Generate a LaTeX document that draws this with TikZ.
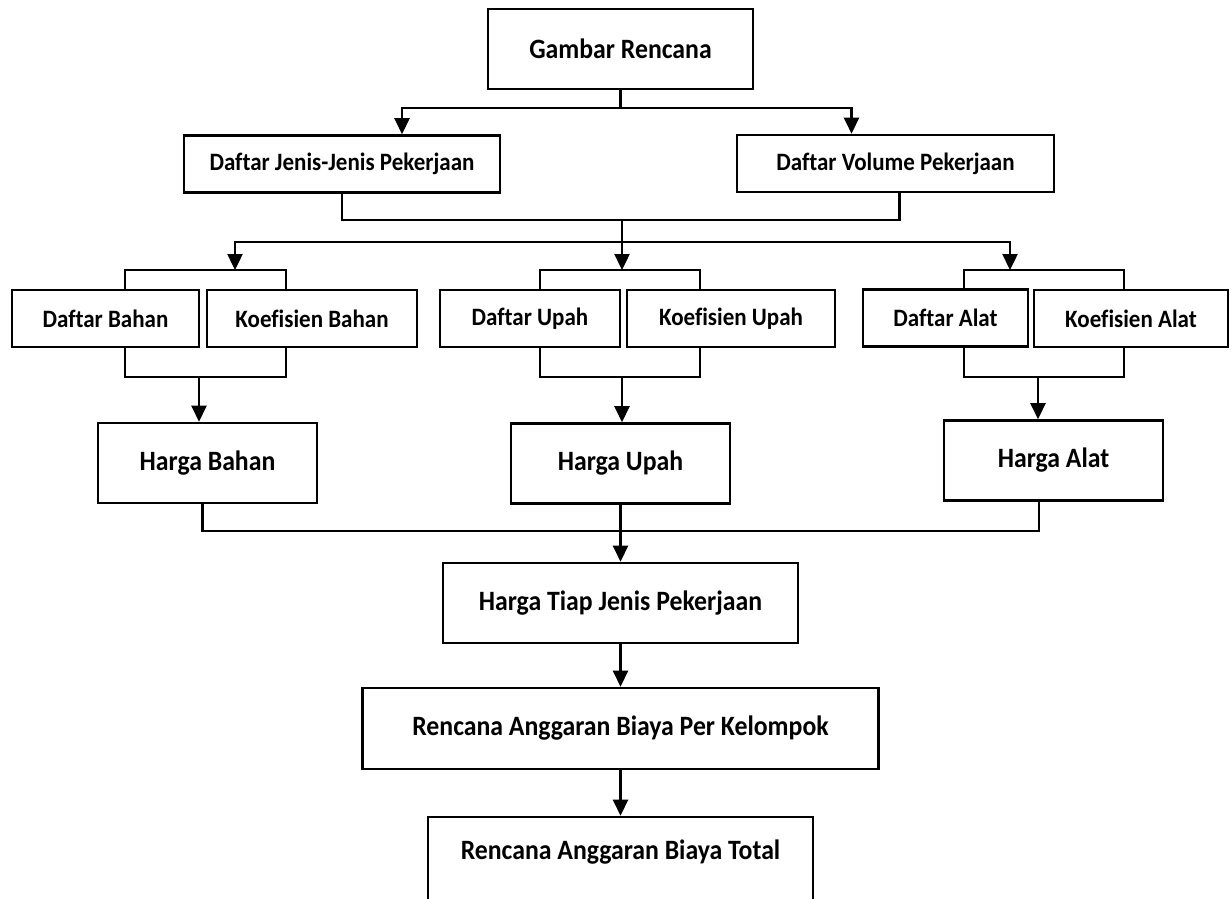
\documentclass[tikz,border=0pt]{standalone}
\usepackage{fontspec}
\setmainfont{Carlito}[FakeStretch=0.92, Ligatures=CommonOff]
\usetikzlibrary{arrows.meta}

\tikzset{
  box/.style={draw, line width=2.6pt, inner sep=0pt, font=\bfseries\fontsize{28}{32}\selectfont},
  sbox/.style={box, minimum height=57pt, font=\bfseries\fontsize{25}{29}\selectfont},
  arr/.style={-{Triangle[length=16pt,width=15pt]}}
}

\begin{document}
\begin{tikzpicture}[x=1pt, y=-1pt, line width=2.4pt]
\useasboundingbox (0,0) rectangle (1231,898);
% Plan and the two lists
\node[box, minimum width=265pt, minimum height=80pt] (gr) at (620.5,49) {Gambar Rencana};
\node[sbox, minimum width=316pt] (dj) at (342,164) {Daftar Jenis-Jenis Pekerjaan};
\node[sbox, minimum width=317pt] (dv) at (895.5,163.5) {Daftar Volume Pekerjaan};
% Lists and coefficients
\node[sbox, minimum width=187pt] (db) at (105.5,318.5) {Daftar Bahan};
\node[sbox, minimum width=210pt] (kb) at (312,318.5) {Koefisien Bahan};
\node[sbox, minimum width=180pt] (du) at (530,318.5) {Daftar Upah};
\node[sbox, minimum width=208pt] (ku) at (731,318.5) {Koefisien Upah};
\node[sbox, minimum width=165pt] (da) at (945.5,318) {Daftar Alat};
\node[sbox, minimum width=194pt] (ka) at (1131,318.5) {Koefisien Alat};
% Prices
\node[box, minimum width=219pt, minimum height=80pt] (hb) at (207.5,463) {Harga Bahan};
\node[box, minimum width=219pt, minimum height=80pt] (hu) at (620.5,463.5) {Harga Upah};
\node[box, minimum width=219pt, minimum height=80pt] (ha) at (1053.5,460.5) {Harga Alat};
% Totals
\node[box, minimum width=355pt, minimum height=80pt] (ht) at (620.5,603) {Harga Tiap Jenis Pekerjaan};
\node[box, minimum width=516pt, minimum height=81pt] (rk) at (620.5,728.5) {Rencana Anggaran Biaya Per Kelompok};
\node[box, minimum width=385pt, minimum height=96pt, text depth=30pt] (rt) at (620.5,865) {Rencana Anggaran Biaya Total};
% Junctions
\coordinate (j1) at (620.5,108);
\coordinate (j2) at (622,220);
\coordinate (j3) at (622,242);
\coordinate (tb) at (235,270);
\coordinate (tu) at (622,270);
\coordinate (ta) at (1010,270);
\coordinate (bb) at (199,377);
\coordinate (bu) at (622,377);
\coordinate (ba) at (1038,377);
\coordinate (j4) at (620.5,531);
% Top split
\draw (gr) -- (j1);
\draw[arr] (j1) -| ([xshift=60pt]dj.north);
\draw[arr] (j1) -| ([xshift=-44pt]dv.north);
\draw (dj) |- (j2) -| ([xshift=4pt]dv.south);
\draw[arr] (j2) -- (tu);
\foreach \t in {tb, ta}
    \draw[arr] (j3) -| (\t);
% Brackets round each pair
\foreach \d/\k/\a/\b/\t/\s/\h in {db/kb/19.5/-26/tb/bb/hb, du/ku/10/-31/tu/bu/hu, da/ka/18.5/-7/ta/ba/ha} {
    \draw ([xshift=\a pt]\d.north) |- (\t) -| ([xshift=\b pt]\k.north);
    \draw ([xshift=\a pt]\d.south) |- (\s) -| ([xshift=\b pt]\k.south);
    \draw[arr] (\s) -- (\s |- \h.north);
}
% Down to the totals
\draw ([xshift=-5pt]hb.south) |- (j4) -| ([xshift=-14.5pt]ha.south);
\draw[arr] (hu) -- (ht);
\draw[arr] (ht) -- (rk);
\draw[arr] (rk) -- (rt);
\end{tikzpicture}
\end{document}
